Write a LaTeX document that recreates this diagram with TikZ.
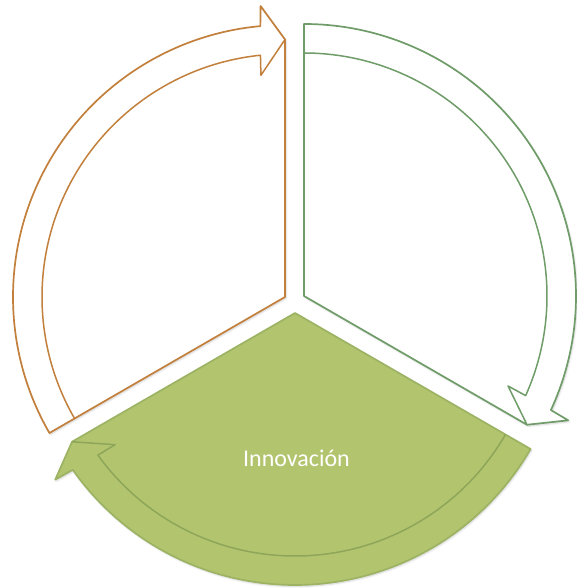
\documentclass[tikz,border=0pt]{standalone}
\usepackage{fontspec}
\setmainfont{Carlito}
\usetikzlibrary{calc,shadows.blur}
\definecolor{orangeline}{HTML}{C2803C}
\definecolor{greenline}{HTML}{6F9C68}
\definecolor{greenfill}{HTML}{B2C46E}
\definecolor{greenedge}{HTML}{9DB364}
\definecolor{greeninner}{HTML}{8EA65A}
\tikzset{
  segshadow/.style={blur shadow={shadow blur steps=6, shadow xshift=1pt, shadow yshift=-1.5pt, shadow opacity=18}},
  outlinebox/.style={line width=1.7pt, line join=round},
  innerline/.style={line width=1.5pt, line join=round},
}
\begin{document}
\begin{tikzpicture}[x=1pt,y=1pt]
\useasboundingbox (0,0) rectangle (577,588);
\coordinate (A1) at (285,291);
\coordinate (A2) at (304,292);
\coordinate (A3) at (295,275);
% orange (left) segment
\draw[outlinebox, draw=orangeline, fill=white, segshadow]
  (A1) -- ($(A1)+(210:272)$) arc[start angle=210,end angle=95.2,radius=272]
  -- ($(A1)+(94.8:292)$) -- ($(A1)+(90:257.5)$) -- cycle;
\draw[innerline, orangeline]
  ($(A1)+(210:243)$) arc[start angle=210,end angle=95.8,radius=243]
  -- ($(A1)+(96.2:223)$) -- ($(A1)+(90:257.5)$);
% right segment
\draw[outlinebox, draw=greenline, fill=white, segshadow]
  (A2) -- ($(A2)+(90:272)$) arc[start angle=90,end angle=-24.8,radius=272]
  -- ($(A2)+(-25.2:292)$) -- ($(A2)+(-30:257.5)$) -- cycle;
\draw[innerline, greenline]
  ($(A2)+(90:243)$) arc[start angle=90,end angle=-24.2,radius=243]
  -- ($(A2)+(-23.8:223)$) -- ($(A2)+(-30:257.5)$);
% bottom green segment
\draw[outlinebox, draw=greenedge, fill=greenfill, segshadow]
  (A3) -- ($(A3)+(-30:272)$) arc[start angle=-30,end angle=-144.8,radius=272]
  -- ($(A3)+(-145.2:292)$) -- ($(A3)+(-150:257.5)$) -- cycle;
\draw[innerline, greeninner]
  ($(A3)+(-30:243)$) arc[start angle=-30,end angle=-144.2,radius=243]
  -- ($(A3)+(-143.8:223)$) -- ($(A3)+(-150:257.5)$);
\node[text=white, font=\fontsize{24}{28}\selectfont, anchor=base, inner sep=0pt] (lbl) at (296.5,121.3) {Innovación};
\end{tikzpicture}
\end{document}
